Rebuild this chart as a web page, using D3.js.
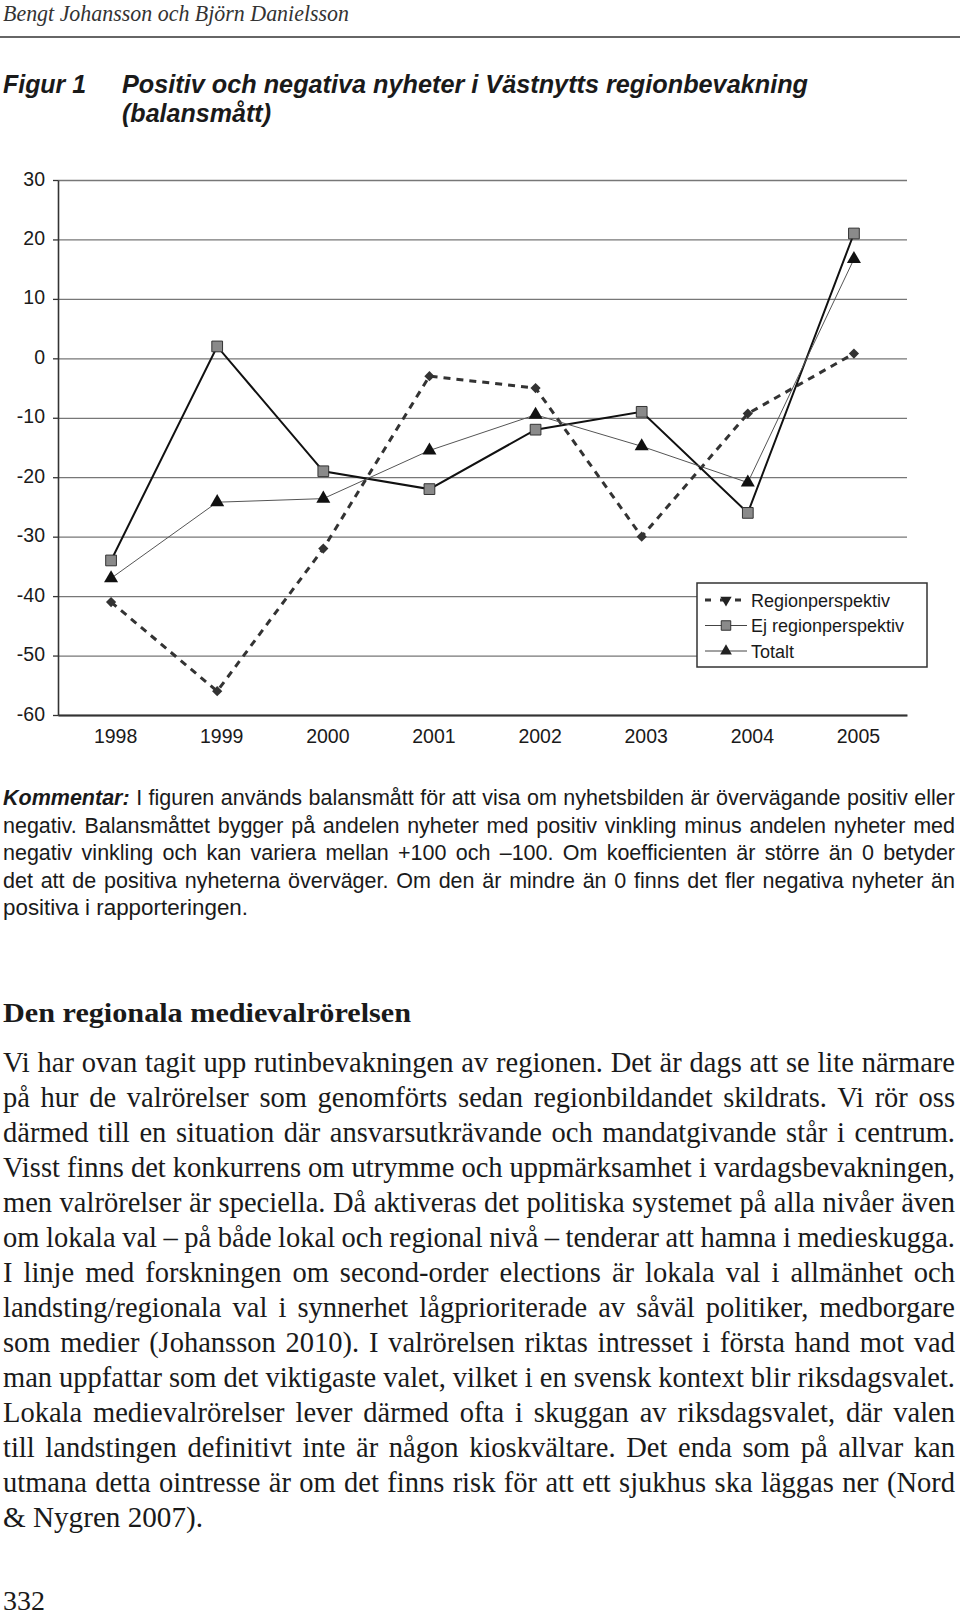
<!DOCTYPE html>
<html>
<head>
<meta charset="utf-8">
<script src="https://cdn.jsdelivr.net/npm/d3@7"></script>
<style>
  body { margin: 0; background: #fff; }
</style>
</head>
<body>
<svg id="page" width="960" height="1618"></svg>
<script>
// chart data
const years = ["1998", "1999", "2000", "2001", "2002", "2003", "2004", "2005"];
const regionperspektiv = [-41, -56, -32, -3, -5, -30, -9.3, 0.8];
const ejRegionperspektiv = [-34, 2, -19, -22, -12, -9, -26, 21];
const totalt = [-37, -24.2, -23.6, -15.5, -9.5, -14.8, -20.9, 16.7];
const yTicks = [30, 20, 10, 0, -10, -20, -30, -40, -50, -60];
const legendLabels = ["Regionperspektiv", "Ej regionperspektiv", "Totalt"];

// page text
const kommentarLines = [
  "negativ. Balansmåttet bygger på andelen nyheter med positiv vinkling minus andelen nyheter med",
  "negativ vinkling och kan variera mellan +100 och –100. Om koefficienten är större än 0 betyder",
  "det att de positiva nyheterna överväger. Om den är mindre än 0 finns det fler negativa nyheter än",
  "positiva i rapporteringen."
];
const bodyLines = [
  "Vi har ovan tagit upp rutinbevakningen av regionen. Det är dags att se lite närmare",
  "på hur de valrörelser som genomförts sedan regionbildandet skildrats. Vi rör oss",
  "därmed till en situation där ansvarsutkrävande och mandatgivande står i centrum.",
  "Visst finns det konkurrens om utrymme och uppmärksamhet i vardagsbevakningen,",
  "men valrörelser är speciella. Då aktiveras det politiska systemet på alla nivåer även",
  "om lokala val – på både lokal och regional nivå – tenderar att hamna i medieskugga.",
  "I linje med forskningen om second-order elections är lokala val i allmänhet och",
  "landsting/regionala val i synnerhet lågprioriterade av såväl politiker, medborgare",
  "som medier (Johansson 2010). I valrörelsen riktas intresset i första hand mot vad",
  "man uppfattar som det viktigaste valet, vilket i en svensk kontext blir riksdagsvalet.",
  "Lokala medievalrörelser lever därmed ofta i skuggan av riksdagsvalet, där valen",
  "till landstingen definitivt inte är någon kioskvältare. Det enda som på allvar kan",
  "utmana detta ointresse är om det finns risk för att ett sjukhus ska läggas ner (Nord",
  "& Nygren 2007)."
];

const svg = d3.select("#page");
svg.append("rect").attr("width", 960).attr("height", 1618).attr("fill", "#fff");

const serif = "'Liberation Serif', 'Times New Roman', serif";
const sans = "'Liberation Sans', Arial, Helvetica, sans-serif";

// justify a text element to width w by word spacing; tighten letters if still too long
const fitText = (t, w, fontSize) => {
  const natural = t.node().getComputedTextLength();
  const str = t.text();
  const spaces = (str.match(/ /g) || []).length;
  if (!spaces) return;
  if (natural <= w) {
    t.style("word-spacing", ((w - natural) / spaces) + "px");
  } else {
    const excess = natural - w;
    const ws = Math.min(excess / spaces, 0.12 * fontSize);
    const rest = excess - ws * spaces;
    t.style("word-spacing", (-ws) + "px");
    if (rest > 0) t.style("letter-spacing", (-rest / str.length) + "px");
  }
};
const squeeze = (t, w) => t.attr("textLength", w).attr("lengthAdjust", "spacingAndGlyphs");

// header
svg.append("text")
  .attr("x", 3).attr("y", 21)
  .style("font-family", serif).style("font-style", "italic").style("font-size", "23px")
  .attr("fill", "#333")
  .call(squeeze, 346)
  .text("Bengt Johansson och Björn Danielsson");

svg.append("line")
  .attr("x1", 0).attr("x2", 960).attr("y1", 37).attr("y2", 37)
  .attr("stroke", "#333").attr("stroke-width", 1.5);

// figure title
const titleStyle = t => t.style("font-family", sans).style("font-weight", "bold")
  .style("font-style", "italic").style("font-size", "25px").attr("fill", "#1a1a1a");
svg.append("text").attr("x", 3).attr("y", 93).call(titleStyle)
  .call(squeeze, 83).text("Figur 1");
svg.append("text").attr("x", 122).attr("y", 93).call(titleStyle)
  .call(squeeze, 686).text("Positiv och negativa nyheter i Västnytts regionbevakning");
svg.append("text").attr("x", 122).attr("y", 122).call(titleStyle)
  .call(squeeze, 149).text("(balansmått)");

// chart
const plotLeft = 58, plotRight = 907, plotTop = 180, plotBottom = 715;
const x = d3.scalePoint().domain(years).range([plotLeft, plotRight]).padding(0.5);
const y = d3.scaleLinear().domain([-60, 30]).range([plotBottom, plotTop]);

const chart = svg.append("g");

// gridlines
chart.append("g")
  .attr("transform", `translate(${plotLeft},0)`)
  .call(d3.axisLeft(y).tickValues(yTicks).tickSize(-(plotRight - plotLeft)).tickFormat(""))
  .call(g => g.select(".domain").remove())
  .call(g => g.selectAll(".tick line").attr("stroke", "#777").attr("stroke-width", 1.3));

// y axis with labels (plain hyphen minus, as in the print)
chart.append("g")
  .attr("transform", `translate(${plotLeft},0)`)
  .call(d3.axisLeft(y).tickValues(yTicks).tickFormat(d => String(d))
    .tickSize(5).tickPadding(8).tickSizeOuter(0))
  .call(g => g.select(".domain").attr("stroke", "#333").attr("stroke-width", 1.6))
  .call(g => g.selectAll(".tick line").attr("stroke", "#333").attr("stroke-width", 1.3))
  .call(g => g.selectAll(".tick text")
    .style("font-family", sans).style("font-size", "19.5px").attr("fill", "#1a1a1a").attr("dy", "0.26em"));

// x axis
chart.append("g")
  .attr("transform", `translate(0,${plotBottom})`)
  .call(d3.axisBottom(x).tickSize(0).tickPadding(14).tickSizeOuter(0))
  .call(g => g.select(".domain").attr("stroke", "#333").attr("stroke-width", 1.8))
  .call(g => g.selectAll(".tick text")
    .style("font-family", sans).style("font-size", "19.5px").attr("fill", "#1a1a1a").attr("dx", 4));

const line = d3.line().x((d, i) => x(years[i])).y(d => y(d));

const series = [
  { values: regionperspektiv, stroke: "#333", width: 3, dash: "7,6" },
  { values: ejRegionperspektiv, stroke: "#111", width: 2, dash: null },
  { values: totalt, stroke: "#555", width: 1, dash: null }
];

series.forEach(s => {
  chart.append("path")
    .datum(s.values)
    .attr("fill", "none")
    .attr("stroke", s.stroke)
    .attr("stroke-width", s.width)
    .attr("stroke-dasharray", s.dash)
    .attr("d", line);
});

// markers
const diamond = d3.symbol().type(d3.symbolSquare).size(52)();
const square = d3.symbol().type(d3.symbolSquare).size(115)();
const triangle = d3.symbol().type(d3.symbolTriangle).size(85)();

chart.append("g").selectAll("path").data(regionperspektiv).join("path")
  .attr("d", diamond)
  .attr("transform", (d, i) => `translate(${x(years[i])},${y(d)}) rotate(45)`)
  .attr("fill", "#333");

chart.append("g").selectAll("path").data(ejRegionperspektiv).join("path")
  .attr("d", square)
  .attr("transform", (d, i) => `translate(${x(years[i])},${y(d)})`)
  .attr("fill", "#8a8a8a").attr("stroke", "#333").attr("stroke-width", 1);

chart.append("g").selectAll("path").data(totalt).join("path")
  .attr("d", triangle)
  .attr("transform", (d, i) => `translate(${x(years[i])},${y(d)})`)
  .attr("fill", "#111");

// legend
const legend = chart.append("g").attr("transform", "translate(697,583)");
legend.append("rect")
  .attr("width", 230).attr("height", 84)
  .attr("fill", "#fff").attr("stroke", "#333").attr("stroke-width", 1.5);

const legendRows = legend.selectAll("g.row").data(legendLabels).join("g")
  .attr("class", "row")
  .attr("transform", (d, i) => `translate(0,${17 + i * 25.5})`);

legendRows.append("line")
  .attr("x1", 8).attr("x2", 50).attr("y1", 0).attr("y2", 0)
  .attr("stroke", (d, i) => i === 0 ? "#333" : "#444")
  .attr("stroke-width", (d, i) => i === 0 ? 3 : 1)
  .attr("stroke-dasharray", (d, i) => i === 0 ? "6,9" : null);

legendRows.append("path")
  .attr("d", (d, i) => i === 0 ? d3.symbol().type(d3.symbolTriangle).size(55)()
    : i === 1 ? d3.symbol().type(d3.symbolSquare).size(90)()
    : d3.symbol().type(d3.symbolTriangle).size(60)())
  .attr("transform", (d, i) => i === 0 ? "translate(29,0) rotate(180)" : "translate(29,0)")
  .attr("fill", (d, i) => i === 1 ? "#8a8a8a" : "#222")
  .attr("stroke", (d, i) => i === 1 ? "#333" : null)
  .attr("stroke-width", 1);

legendRows.append("text")
  .attr("x", 54).attr("y", 6.5)
  .style("font-family", sans).style("font-size", "18px").attr("fill", "#1a1a1a")
  .text(d => d);

// Kommentar paragraph
const kTop = 805, kStep = 27.5, textLeft = 3, textWidth = 952;
const kSize = 21.5;
const k0 = svg.append("text")
  .attr("x", textLeft).attr("y", kTop)
  .style("font-family", sans).style("font-size", kSize + "px").attr("fill", "#1a1a1a");
k0.append("tspan").style("font-weight", "bold").style("font-style", "italic").text("Kommentar: ");
k0.append("tspan").text("I figuren används balansmått för att visa om nyhetsbilden är övervägande positiv eller");
fitText(k0, textWidth, kSize);

kommentarLines.forEach((s, i) => {
  const t = svg.append("text")
    .attr("x", textLeft).attr("y", kTop + (i + 1) * kStep)
    .style("font-family", sans).style("font-size", kSize + "px").attr("fill", "#1a1a1a")
    .text(s);
  if (i < kommentarLines.length - 1) fitText(t, textWidth, kSize);
  else squeeze(t, 245);
});

// section heading
svg.append("text")
  .attr("x", 3).attr("y", 1022)
  .style("font-family", serif).style("font-weight", "bold").style("font-size", "28px")
  .attr("fill", "#1a1a1a")
  .call(squeeze, 408)
  .text("Den regionala medievalrörelsen");

// body text
const bTop = 1072, bStep = 35, bSize = 28.5;
bodyLines.forEach((s, i) => {
  const t = svg.append("text")
    .attr("x", textLeft).attr("y", bTop + i * bStep)
    .style("font-family", serif).style("font-size", bSize + "px").attr("fill", "#1a1a1a")
    .text(s);
  if (i < bodyLines.length - 1) fitText(t, textWidth, bSize);
  else squeeze(t, 200);
});

// page number
svg.append("text")
  .attr("x", 3).attr("y", 1610)
  .style("font-family", serif).style("font-size", "27px").attr("fill", "#1a1a1a")
  .call(squeeze, 42)
  .text("332");
</script>
</body>
</html>
